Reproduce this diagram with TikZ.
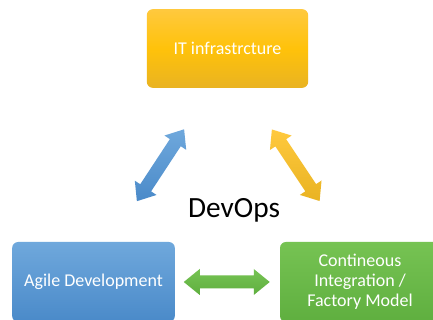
\documentclass[tikz,border=0pt]{standalone}
\usepackage{fontspec}
\setmainfont{Carlito}
\usepackage{xcolor}
\usetikzlibrary{calc}

\definecolor{infratop}{HTML}{FFC93E}
\definecolor{inframid}{HTML}{FFC20A}
\definecolor{infrabot}{HTML}{E9B322}
\definecolor{agiletop}{HTML}{6FA8DC}
\definecolor{agilebot}{HTML}{4A8AC9}
\definecolor{citop}{HTML}{76C353}
\definecolor{cibot}{HTML}{5FAF3F}

% double headed block arrow, #1 = centre, #2 = angle, #3/#4 = top/bottom colour
\newcommand\blockarrow[4]{%
  \shade[top color=#3, bottom color=#4, shift={(#1)}, rotate=#2]
    (-43,0) -- (-27,13) -- (-27,6.5) -- (27,6.5) -- (27,13) -- (43,0)
    -- (27,-13) -- (27,-6.5) -- (-27,-6.5) -- (-27,-13) -- cycle;}

\begin{document}
\begin{tikzpicture}[x=0.75pt,y=0.75pt,
    box/.style={rounded corners=4.5pt, text=white, align=center,
      font=\fontsize{13.5}{15}\selectfont, inner sep=0pt}]
      \useasboundingbox (0,0) rectangle (433,320);
      \fill[white] (0,0) rectangle (433,320);
      % the three boxes
      \node[box, minimum width=121pt, minimum height=59pt,
        top color=infratop, bottom color=infrabot, middle color=inframid]
        (infra) at (227.5,271.5) {IT infrastrcture};
      \node[box, minimum width=122pt, minimum height=60pt,
        top color=agiletop, bottom color=agilebot]
        (agile) at (93.5,38) {Agile Development};
      \node[box, minimum width=120pt, minimum height=60pt,
        top color=citop, bottom color=cibot]
        (ci) at (360,38) {Contineous\\Integration /\\Factory Model};
      \node[font=\fontsize{22}{26}\selectfont] (devops) at (234,110) {DevOps};
      % arrows between the boxes
      \coordinate (bluemid) at ($(agile)!0.5!(infra)$);
      \coordinate (yellowmid) at ($(ci)!0.5!(infra)+(2,0)$);
      \coordinate (greenmid) at ($(agile)!0.5!(ci)$);
      \blockarrow{bluemid}{56.7}{agiletop}{agilebot}
      \blockarrow{yellowmid}{-56.3}{infratop}{infrabot}
      \blockarrow{greenmid}{0}{citop}{cibot}
\end{tikzpicture}
\end{document}
